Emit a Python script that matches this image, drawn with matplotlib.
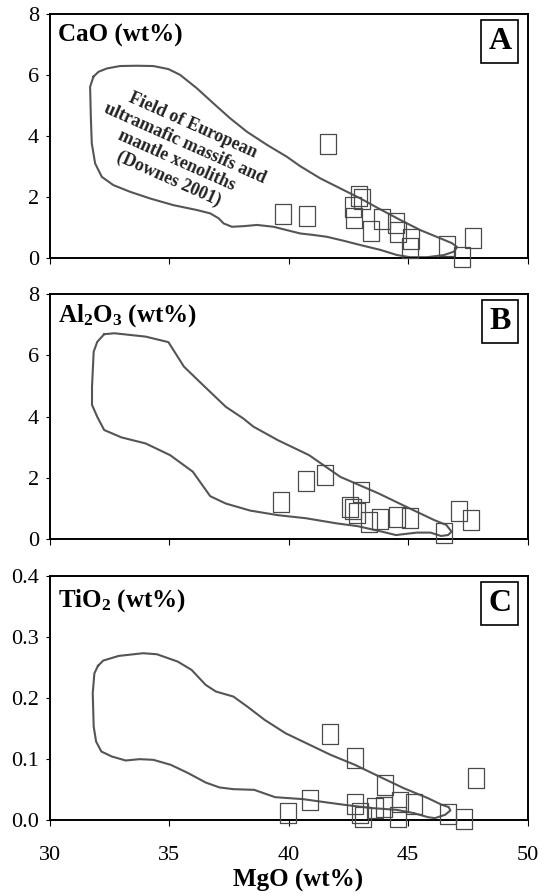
import numpy as np
import matplotlib
matplotlib.use('Agg')
import matplotlib.pyplot as plt
from matplotlib.ticker import FormatStrFormatter

plt.rcParams['font.family'] = ['Liberation Serif', 'DejaVu Serif']
plt.rcParams['mathtext.fontset'] = 'custom'
plt.rcParams['mathtext.rm'] = 'Liberation Serif:bold'
plt.rcParams['mathtext.bf'] = 'Liberation Serif:bold'
plt.rcParams['mathtext.default'] = 'bf'

# sample points (MgO vs oxide, wt%)
cao_mgo = [39.76, 40.76, 41.63, 42.69, 42.75, 42.94, 43.06, 43.45, 43.91, 44.50, 44.56, 45.14, 45.07, 46.62, 47.25, 47.70]
cao = [1.43, 1.37, 3.72, 1.67, 1.29, 2.02, 1.93, 0.88, 1.25, 1.15, 0.85, 0.62, 0.31, 0.37, 0.03, 0.63]

al_mgo = [39.69, 40.72, 41.53, 42.55, 42.70, 42.86, 43.02, 43.34, 43.84, 44.54, 45.09, 46.50, 47.15, 47.62]
al2o3 = [1.22, 1.91, 2.10, 1.06, 0.98, 0.86, 1.55, 0.55, 0.66, 0.72, 0.68, 0.20, 0.93, 0.63]

ti_mgo = [39.95, 40.89, 41.73, 42.78, 42.76, 43.00, 43.12, 43.60, 44.00, 44.05, 44.58, 44.65, 45.25, 46.68, 47.36, 47.86]
tio2 = [0.012, 0.033, 0.141, 0.103, 0.027, 0.013, 0.006, 0.020, 0.022, 0.058, 0.005, 0.030, 0.027, 0.011, 0.002, 0.069]

# field of European ultramafic massifs (Downes 2001) outlines
field_a_x = [31.82, 32.03, 32.38, 32.93, 33.63, 34.33, 34.96, 35.45, 36.15, 36.85, 37.55, 38.25, 39.09, 39.92,
             40.48, 41.32, 42.16, 43.00, 43.84, 44.68, 45.51, 46.35, 46.84, 47.05, 46.91, 46.49, 45.79, 45.09,
             44.54, 43.84, 43.00, 42.30, 41.60, 41.04, 40.48, 39.92, 39.36, 38.67, 38.11, 37.62, 37.27, 37.06,
             36.71, 36.15, 35.17, 34.19, 33.35, 32.65, 32.17, 31.89, 31.75, 31.71, 31.68, 31.82]
field_a_y = [5.94, 6.10, 6.21, 6.29, 6.30, 6.29, 6.19, 6.00, 5.56, 5.06, 4.57, 4.13, 3.70, 3.31,
             3.00, 2.60, 2.27, 1.94, 1.58, 1.23, 0.90, 0.63, 0.47, 0.34, 0.19, 0.08, 0.01, 0.01,
             0.08, 0.25, 0.41, 0.55, 0.68, 0.74, 0.79, 0.90, 1.01, 1.07, 1.03, 1.01, 1.12, 1.29,
             1.45, 1.56, 1.72, 1.94, 2.16, 2.38, 2.65, 3.09, 3.75, 4.63, 5.61, 5.94]

field_b_x = [32.27, 32.70, 34.01, 34.96, 35.61, 36.34, 37.36, 38.09, 38.52, 39.54, 40.85, 42.16, 43.76,
             44.93, 46.09, 46.60, 46.82, 46.67, 46.38, 45.94, 45.36, 44.49, 43.91, 42.89, 42.02, 40.71,
             39.54, 38.38, 37.36, 36.71, 35.98, 35.03, 34.01, 32.99, 32.27, 31.98, 31.76, 31.76, 31.83,
             31.98, 32.27]
field_b_y = [6.69, 6.72, 6.61, 6.43, 5.63, 5.08, 4.32, 3.94, 3.67, 3.23, 2.74, 2.03, 1.49,
             1.05, 0.62, 0.46, 0.24, 0.13, 0.10, 0.21, 0.21, 0.13, 0.24, 0.42, 0.51, 0.68,
             0.78, 0.93, 1.16, 1.40, 2.20, 2.74, 3.12, 3.32, 3.56, 3.99, 4.38, 4.97, 6.12,
             6.44, 6.69]

field_c_x = [32.01, 32.23, 32.88, 33.90, 34.48, 35.35, 35.93, 36.52, 36.95, 37.68, 38.26, 38.99, 39.86,
             40.88, 41.75, 42.77, 43.79, 44.81, 45.83, 46.41, 46.70, 46.77, 46.55, 46.12, 45.83, 45.24,
             44.52, 43.50, 42.33, 41.61, 40.59, 39.43, 38.55, 37.68, 37.10, 36.52, 35.79, 35.06, 34.33,
             33.75, 33.17, 32.59, 32.15, 31.93, 31.83, 31.79, 31.86, 32.01]
field_c_y = [0.2529, 0.2616, 0.2692, 0.2736, 0.2719, 0.2599, 0.2463, 0.2218, 0.2109, 0.2027, 0.1864, 0.1646, 0.1428,
             0.1237, 0.1074, 0.0910, 0.0719, 0.0529, 0.0365, 0.0256, 0.0218, 0.0163, 0.0093, 0.0038, 0.0054, 0.0120,
             0.0174, 0.0202, 0.0256, 0.0294, 0.0349, 0.0381, 0.0501, 0.0512, 0.0540, 0.0621, 0.0774, 0.0910, 0.0992,
             0.1003, 0.0981, 0.1046, 0.1128, 0.1292, 0.1537, 0.2082, 0.2409, 0.2529]

line_col = '#555555'
mk_col = '#4a4a4a'
rect = [(-0.83, -1), (0.83, -1), (0.83, 1), (-0.83, 1), (-0.83, -1)]

fig = plt.figure(figsize=(5.44, 8.96), dpi=100)
axA = fig.add_axes([0.0919, 0.7126, 0.8778, 0.2718])
axB = fig.add_axes([0.0919, 0.3984, 0.8778, 0.2734])
axC = fig.add_axes([0.0919, 0.0843, 0.8778, 0.2729])

panels = [
    (axA, cao_mgo, cao, field_a_x, field_a_y, 8, [0, 2, 4, 6, 8], 'CaO (wt%)', 'A', 0.886),
    (axB, al_mgo, al2o3, field_b_x, field_b_y, 8, [0, 2, 4, 6, 8], r'Al$_2$O$_3$ (wt%)', 'B', 0.887),
    (axC, ti_mgo, tio2, field_c_x, field_c_y, 0.4, [0.0, 0.1, 0.2, 0.3, 0.4], r'TiO$_2$ (wt%)', 'C', 0.874),
]

for ax, mx, oy, fx, fy, ymax, yt, lab, letter, laby in panels:
    ax.plot(fx, fy, color=line_col, lw=1.5, zorder=2)
    ax.plot(mx, oy, linestyle='none', marker=rect, markersize=14.5, markerfacecolor='none',
            markeredgecolor=mk_col, markeredgewidth=0.9, clip_on=False, zorder=3)
    ax.set_xlim(30, 50)
    ax.set_ylim(0, ymax)
    ax.set_xticks([30, 35, 40, 45, 50])
    ax.set_yticks(yt)
    ax.tick_params(axis='x', direction='out', length=4.3, width=0.8, pad=14, labelsize=16, top=False)
    ax.tick_params(axis='y', direction='out', length=2.9, width=0.8, pad=5, labelsize=16, right=False)
    for s in ax.spines.values():
        s.set_linewidth(1.4)
    ax.text(0.017, laby, lab, transform=ax.transAxes, fontsize=18, fontweight='bold',
            ha='left', va='baseline')
    ax.text(0.942, 0.888, letter, transform=ax.transAxes, fontsize=23, fontweight='bold',
            ha='center', va='center',
            bbox=dict(boxstyle='square,pad=0.22', facecolor='white', edgecolor='black', linewidth=1.2))

axA.tick_params(axis='x', labelbottom=False)
axB.tick_params(axis='x', labelbottom=False)
axC.yaxis.set_major_formatter(FormatStrFormatter('%.1f'))

axA.text(35.48, 3.46, 'Field of European\nultramafic massifs and\nmantle xenoliths\n(Downes 2001)',
         fontsize=13, fontweight='bold', rotation=-24, rotation_mode='anchor',
         ha='center', va='center', multialignment='center', linespacing=1.2, color='#222222')

axC.set_xlabel('MgO (wt%)', fontsize=18, fontweight='bold', labelpad=0)
axC.xaxis.set_label_coords(0.52, -0.2)

fig.savefig('out.png', dpi=100)
